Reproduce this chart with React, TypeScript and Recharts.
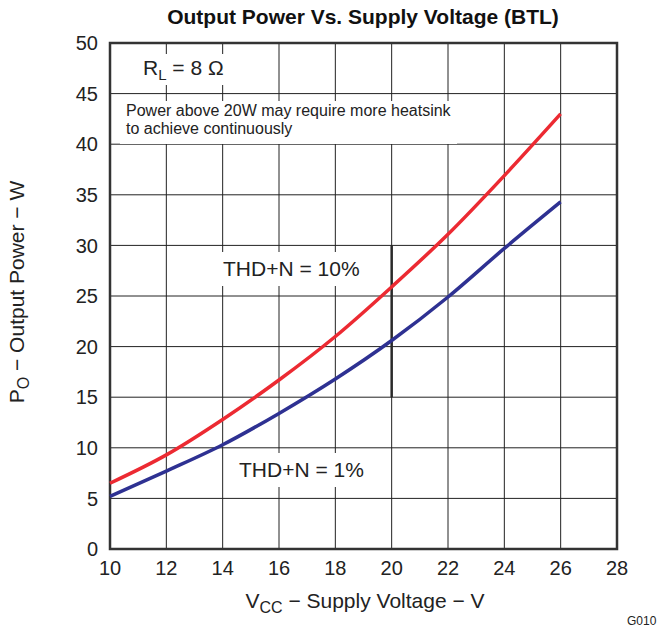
import React from 'react';
import {
  LineChart,
  Line,
  XAxis,
  YAxis,
  CartesianGrid,
  ReferenceArea,
  ReferenceLine
} from 'recharts';

// supply voltage (V) and output power (W)
const voltage = [10, 12, 14, 16, 18, 20, 22, 24, 26];
const thd10 = [6.5, 9.3, 12.8, 16.7, 21.0, 25.9, 31.1, 36.9, 43.0];
const thd1 = [5.2, 7.7, 10.3, 13.4, 16.8, 20.6, 24.9, 29.7, 34.3];

const xTicks = [10, 12, 14, 16, 18, 20, 22, 24, 26, 28];
const yTicks = [0, 5, 10, 15, 20, 25, 30, 35, 40, 45, 50];

const data = voltage.map((v, i) => ({ v, thd10: thd10[i], thd1: thd1[i] }));

const FONT = '"Liberation Sans", Arial, Helvetica, sans-serif';
const tickStyle = { fill: '#222', fontSize: 20, fontFamily: FONT };

const note = (left: number, top: number, size: number): React.CSSProperties => ({
  position: 'absolute',
  left,
  top,
  fontSize: size,
  fontFamily: FONT,
  color: '#222',
  background: '#fff',
  whiteSpace: 'nowrap',
  lineHeight: 1.15
});

export default function App() {
  return (
    <div style={{ position: 'absolute', left: 0, top: 0, width: 659, height: 633, background: '#fff' }}>
      <LineChart width={659} height={633} data={data} margin={{ top: 43, right: 42, bottom: 0, left: 0 }}>
        <CartesianGrid stroke="#222" strokeWidth={1} />
        <XAxis
          dataKey="v"
          type="number"
          domain={[10, 28]}
          ticks={xTicks}
          height={84}
          axisLine={false}
          tickLine={false}
          tickMargin={6}
          tick={tickStyle}
        />
        <YAxis
          type="number"
          domain={[0, 50]}
          ticks={yTicks}
          width={110}
          axisLine={false}
          tickLine={false}
          tickMargin={6}
          tick={tickStyle}
        />
        <ReferenceArea x1={10} x2={28} y1={0} y2={50} fill="none" stroke="#333" strokeWidth={2.5} />
        <ReferenceLine segment={[{ x: 20, y: 15 }, { x: 20, y: 30 }]} stroke="#2a2a2a" strokeWidth={2.5} />
        <Line type="monotone" dataKey="thd10" stroke="#ec2a32" strokeWidth={3.5} dot={false} isAnimationActive={false} />
        <Line type="monotone" dataKey="thd1" stroke="#2e3192" strokeWidth={3.5} dot={false} isAnimationActive={false} />
      </LineChart>

      <div style={{ position: 'absolute', left: 0, width: 726, top: 5, textAlign: 'center', fontFamily: FONT, fontWeight: 'bold', fontSize: 21, color: '#111' }}>
        Output Power Vs. Supply Voltage (BTL)
      </div>

      <div style={{ ...note(137, 54, 21), padding: '2px 6px' }}>
        R<sub style={{ fontSize: 15, verticalAlign: -5 }}>L</sub> = 8 Ω
      </div>

      <div style={{ ...note(120, 101, 16), padding: '1px 6px 5px 6px' }}>
        Power above 20W may require more heatsink
        <br />
        to achieve continuously
      </div>

      <div style={{ ...note(215, 252, 21), padding: '5px 8px' }}>THD+N = 10%</div>
      <div style={{ ...note(231, 453, 21), padding: '5px 8px' }}>THD+N = 1%</div>

      <div style={{ position: 'absolute', left: 0, width: 730, top: 589, textAlign: 'center', fontFamily: FONT, fontSize: 21, color: '#222' }}>
        V<sub style={{ fontSize: 16, verticalAlign: -5 }}>CC</sub> − Supply Voltage − V
      </div>

      <div
        style={{
          position: 'absolute',
          left: 19,
          top: 292,
          transform: 'translate(-50%, -50%) rotate(-90deg)',
          fontFamily: FONT,
          fontSize: 21,
          color: '#222',
          whiteSpace: 'nowrap'
        }}
      >
        P<sub style={{ fontSize: 16, verticalAlign: -5 }}>O</sub> − Output Power − W
      </div>

      <div style={{ position: 'absolute', left: 627, top: 614, fontFamily: FONT, fontSize: 12, color: '#222' }}>G010</div>
    </div>
  );
}
